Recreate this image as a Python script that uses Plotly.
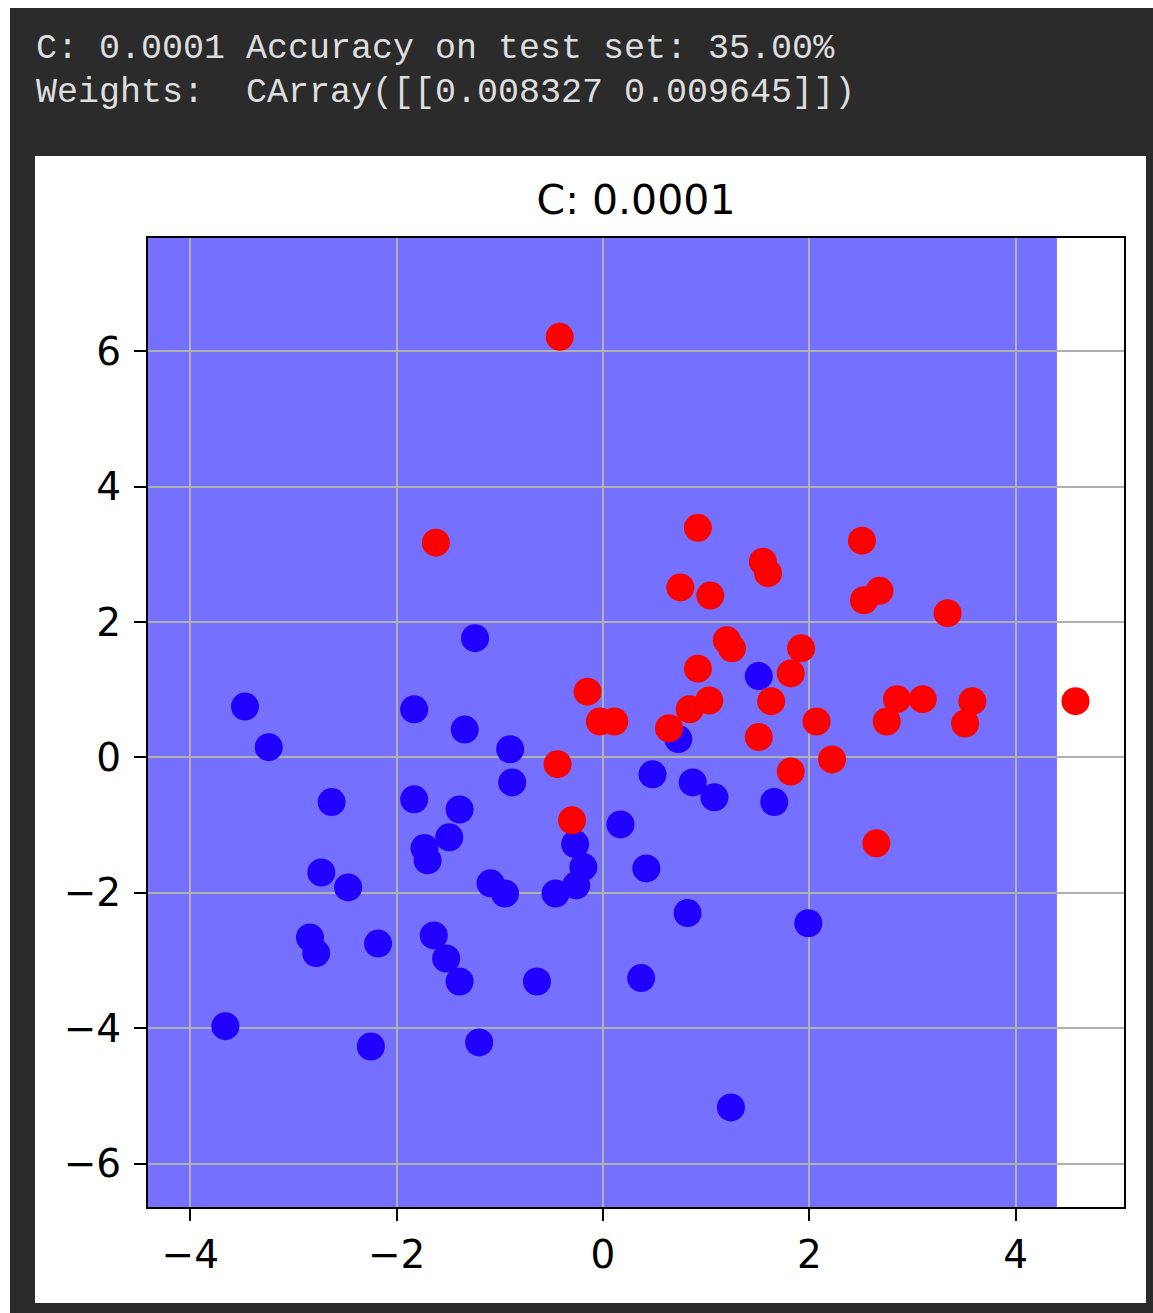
import plotly.graph_objects as go

# ---- data ----
blue_x = [-1.24, -3.47, -3.24, -1.83, -1.34, -0.90, -0.88, -2.63, -1.83, -1.39,
          -1.49, -1.73, -1.70, -2.73, -2.47, -1.09, -0.95, -0.46, -0.26, -0.19,
          -0.27, 0.17, 0.42, 0.82, 1.99, -2.84, -2.78, -2.18, -1.64, -1.52,
          -1.39, -0.64, 0.37, -3.66, -2.25, -1.20, 1.24, 1.51, 0.73, 0.48,
          0.87, 1.08, 1.66]
blue_y = [1.76, 0.75, 0.15, 0.71, 0.41, 0.12, -0.37, -0.66, -0.62, -0.77,
          -1.18, -1.34, -1.52, -1.70, -1.92, -1.86, -2.01, -2.01, -1.89, -1.62,
          -1.28, -0.99, -1.64, -2.30, -2.45, -2.66, -2.89, -2.75, -2.63, -2.97,
          -3.31, -3.31, -3.26, -3.97, -4.27, -4.21, -5.17, 1.20, 0.27, -0.25,
          -0.37, -0.59, -0.66]

red_x = [-0.42, -1.62, 0.92, 0.75, 1.04, 1.55, 1.60, 2.51, 2.53, 2.68,
         3.34, 1.20, 1.25, 1.92, 0.92, 1.82, -0.15, -0.03, 0.11, 0.64,
         0.84, 1.03, 1.63, 1.51, 2.07, 2.75, 2.85, 3.10, 3.58, 3.51,
         4.58, -0.44, -0.30, 1.82, 2.22, 2.65]
red_y = [6.21, 3.17, 3.39, 2.51, 2.39, 2.89, 2.72, 3.20, 2.32, 2.46,
         2.13, 1.73, 1.61, 1.61, 1.31, 1.24, 0.97, 0.53, 0.53, 0.43,
         0.71, 0.84, 0.83, 0.30, 0.53, 0.53, 0.86, 0.86, 0.83, 0.50,
         0.83, -0.10, -0.93, -0.21, -0.03, -1.27]

# decision region predicted as the blue class
region_x = [-4.41, 4.40]
region_y = [-6.64, 7.67]

x_range = [-4.41, 5.05]
y_range = [-6.64, 7.67]
x_ticks = [-4, -2, 0, 2, 4]
y_ticks = [-6, -4, -2, 0, 2, 4, 6]

title_text = "C: 0.0001"
line1 = "C: 0.0001 Accuracy on test set: 35.00%"
line2 = "Weights:\u00a0 CArray([[0.008327 0.009645]])"

W, H = 1153, 1313
L, R, T, B = 148, 1124, 238, 1207
pw, ph = R - L, B - T

def px(x):
    return (x - L) / pw

def py(y):
    return (B - y) / ph

fig = go.Figure()
fig.add_trace(go.Scatter(x=blue_x, y=blue_y, mode="markers",
                         marker=dict(size=28, color="#2200ff", line=dict(width=0)),
                         showlegend=False, hoverinfo="skip"))
fig.add_trace(go.Scatter(x=red_x, y=red_y, mode="markers",
                         marker=dict(size=28, color="#ff0000", line=dict(width=0)),
                         showlegend=False, hoverinfo="skip"))

shapes = [
    # dark notebook background
    dict(type="rect", xref="paper", yref="paper", x0=px(10), x1=px(1160),
         y0=py(1320), y1=py(8), fillcolor="#2b2b2b", line=dict(width=0), layer="below"),
    # white figure panel
    dict(type="rect", xref="paper", yref="paper", x0=px(35), x1=px(1146),
         y0=py(1303), y1=py(156), fillcolor="#ffffff", line=dict(width=0), layer="below"),
    # decision region
    dict(type="rect", xref="x", yref="y", x0=region_x[0], x1=region_x[1],
         y0=region_y[0], y1=region_y[1], fillcolor="#7670ff",
         line=dict(width=0), layer="below"),
]

annotations = [
    dict(text=line1, xref="paper", yref="paper", x=px(34), y=py(49),
         xanchor="left", yanchor="middle", showarrow=False,
         font=dict(family="Liberation Mono", size=35, color="#dedede")),
    dict(text=line2, xref="paper", yref="paper", x=px(34), y=py(93),
         xanchor="left", yanchor="middle", showarrow=False,
         font=dict(family="Liberation Mono", size=35, color="#dedede")),
]

axis_common = dict(showgrid=True, gridcolor="#b0b0b0", gridwidth=1.5,
                   showline=True, linecolor="black", linewidth=2, mirror=True,
                   ticks="outside", ticklen=12, tickwidth=2, tickcolor="black",
                   zeroline=False,
                   tickfont=dict(family="DejaVu Sans", size=39, color="black"))

fig.update_layout(
    width=W, height=H,
    margin=dict(l=L, r=W - R, t=T, b=H - B),
    paper_bgcolor="#ffffff", plot_bgcolor="rgba(0,0,0,0)",
    shapes=shapes, annotations=annotations,
    title=dict(text=title_text, x=(L + R) / 2 / W, xanchor="center",
               y=1 - 200 / H, yanchor="middle", yref="container",
               font=dict(family="DejaVu Sans", size=41, color="black")),
    xaxis=dict(range=x_range, tickvals=x_ticks, **axis_common),
    yaxis=dict(range=y_range, tickvals=y_ticks, ticklabelstandoff=5, **axis_common),
)

fig.write_html("out.html")
